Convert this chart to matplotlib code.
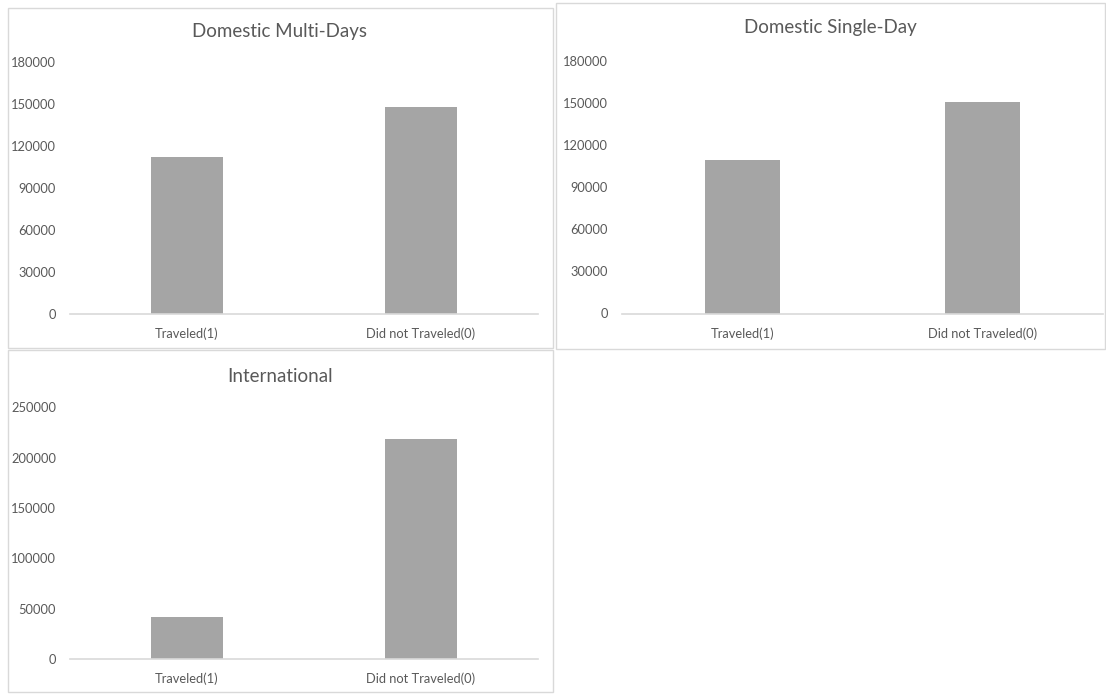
import matplotlib
matplotlib.use("Agg")
import matplotlib.pyplot as plt
from matplotlib.patches import Rectangle

categories = ["Traveled(1)", "Did not Traveled(0)"]
multi_days = [111900, 148200]
single_day = [109100, 150500]
international = [41400, 218500]

titles = ["Domestic Multi-Days", "Domestic Single-Day", "International"]
yticks_domestic = [0, 30000, 60000, 90000, 120000, 150000, 180000]
yticks_intl = [0, 50000, 100000, 150000, 200000, 250000]

W, H = 1106, 694
fig = plt.figure(figsize=(W / 100, H / 100), dpi=100)
fig.patch.set_facecolor("white")

plt.rcParams['font.family'] = ['Lato', 'DejaVu Sans']
TXT = "#595959"
BAR = "#a5a5a5"
LINE = "#d9d9d9"

def px_rect(x0, y0, x1, y1):
    return [x0 / W, 1 - y1 / H, (x1 - x0) / W, (y1 - y0) / H]

# panel borders (pixel boxes)
boxes = [(8, 8, 553, 348), (556, 3, 1105, 349), (8, 350, 553, 692)]
for (x0, y0, x1, y1) in boxes:
    fig.patches.append(Rectangle((x0 / W, 1 - y1 / H), (x1 - x0) / W, (y1 - y0) / H,
                                 transform=fig.transFigure, fill=False,
                                 edgecolor=LINE, linewidth=1.0))

# axes placements (pixel): left, top, right, bottom
axes_px = [(70, 62, 538, 314), (622, 61, 1103, 313.5), (70, 407.5, 538, 659)]
data = [multi_days, single_day, international]
ticks = [yticks_domestic, yticks_domestic, yticks_intl]
title_y = [32, 27, 377]
title_x = [280, 830, 280]

for i in range(3):
    l, t, r, b = axes_px[i]
    ax = fig.add_axes(px_rect(l, t, r, b))
    ax.bar(range(len(categories)), data[i], width=0.31, color=BAR)
    ax.set_xlim(-0.5, len(categories) - 0.5)
    ax.set_ylim(ticks[i][0], ticks[i][-1])
    ax.set_yticks(ticks[i])
    ax.set_yticklabels([str(v) for v in ticks[i]])
    ax.set_xticks(range(len(categories)))
    ax.set_xticklabels(categories)
    for s in ["top", "right", "left"]:
        ax.spines[s].set_visible(False)
    ax.spines["bottom"].set_color(LINE)
    ax.spines["bottom"].set_linewidth(1.2)
    ax.tick_params(axis="both", length=0, colors=TXT, labelsize=9.3)
    ax.tick_params(axis="y", pad=10)
    ax.tick_params(axis="x", pad=10)
    ax.set_facecolor("none")
    fig.text(title_x[i] / W, 1 - title_y[i] / H, titles[i], ha="center", va="center",
             fontsize=13.5, color=TXT)

fig.savefig("out.png", dpi=100, facecolor="white")
